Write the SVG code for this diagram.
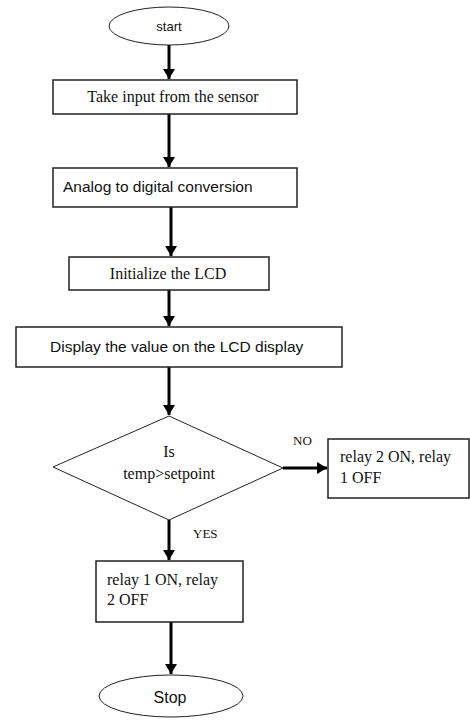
<svg xmlns="http://www.w3.org/2000/svg" width="470" height="720" viewBox="0 0 470 720">
<style>
.box{fill:#fff;stroke:#222;stroke-width:1.5}
.term{fill:#fff;stroke:#222;stroke-width:1}
.serif{font-family:"Liberation Serif","Times New Roman",serif;fill:#111;font-size:16px}
.sans{font-family:"Liberation Sans",Arial,sans-serif;fill:#111;font-size:15.5px}
.lbl{font-family:"Liberation Serif","Times New Roman",serif;fill:#111;font-size:13px}
.conn{stroke:#000;stroke-width:3;fill:none}
</style>
<defs>
<marker id="ah" markerUnits="userSpaceOnUse" markerWidth="12" markerHeight="12" refX="10" refY="6" orient="auto">
<path d="M0,0 L10,6 L0,12 Z" fill="#000"/>
</marker>
</defs>
<rect width="470" height="720" fill="#fff"/>
<g id="connectors">
<line class="conn" x1="169" y1="45" x2="169" y2="79" marker-end="url(#ah)"/>
<line class="conn" x1="169" y1="114" x2="169" y2="167" marker-end="url(#ah)"/>
<line class="conn" x1="171" y1="207" x2="171" y2="256" marker-end="url(#ah)"/>
<line class="conn" x1="169" y1="290" x2="169" y2="326" marker-end="url(#ah)"/>
<line class="conn" x1="169" y1="367" x2="169" y2="415" marker-end="url(#ah)"/>
<line class="conn" x1="283" y1="468" x2="327" y2="468" marker-end="url(#ah)"/>
<line class="conn" x1="169" y1="520" x2="169" y2="560" marker-end="url(#ah)"/>
<line class="conn" x1="171" y1="622" x2="171" y2="674" marker-end="url(#ah)"/>
<text class="lbl" x="293" y="445">NO</text>
<text class="lbl" x="193" y="538">YES</text>
</g>
<g id="start">
<ellipse class="term" cx="169" cy="26" rx="60" ry="19"/>
<text class="sans" x="169" y="31" style="font-size:13px" text-anchor="middle">start</text>
</g>
<g id="input">
<rect class="box" x="53" y="80" width="244" height="34"/>
<text class="serif" x="173" y="102" text-anchor="middle">Take input from the sensor</text>
</g>
<g id="adc">
<rect class="box" x="53" y="168" width="244" height="39"/>
<text class="sans" x="63" y="192">Analog to digital conversion</text>
</g>
<g id="lcdinit">
<rect class="box" x="69" y="257" width="200" height="33"/>
<text class="serif" x="168" y="279" text-anchor="middle">Initialize the LCD</text>
</g>
<g id="display">
<rect class="box" x="16" y="327" width="326" height="40"/>
<text class="sans" x="50" y="352">Display the value on the LCD display</text>
</g>
<g id="decision">
<polygon class="term" points="169,416 283,468 169,520 53,467"/>
<text class="serif" x="169" y="457" text-anchor="middle">Is</text>
<text class="serif" x="169" y="479" text-anchor="middle">temp&gt;setpoint</text>
</g>
<g id="relay2on">
<rect class="box" x="328" y="439" width="141" height="59"/>
<text class="serif" x="340" y="462">relay 2 ON, relay</text>
<text class="serif" x="340" y="483">1 OFF</text>
</g>
<g id="relay1on">
<rect class="box" x="96" y="561" width="147" height="61"/>
<text class="serif" x="107" y="585">relay 1 ON, relay</text>
<text class="serif" x="107" y="605">2 OFF</text>
</g>
<g id="stop">
<ellipse class="term" cx="171" cy="696" rx="72" ry="21"/>
<text class="sans" x="170" y="703" style="font-size:16px" text-anchor="middle">Stop</text>
</g>
</svg>
